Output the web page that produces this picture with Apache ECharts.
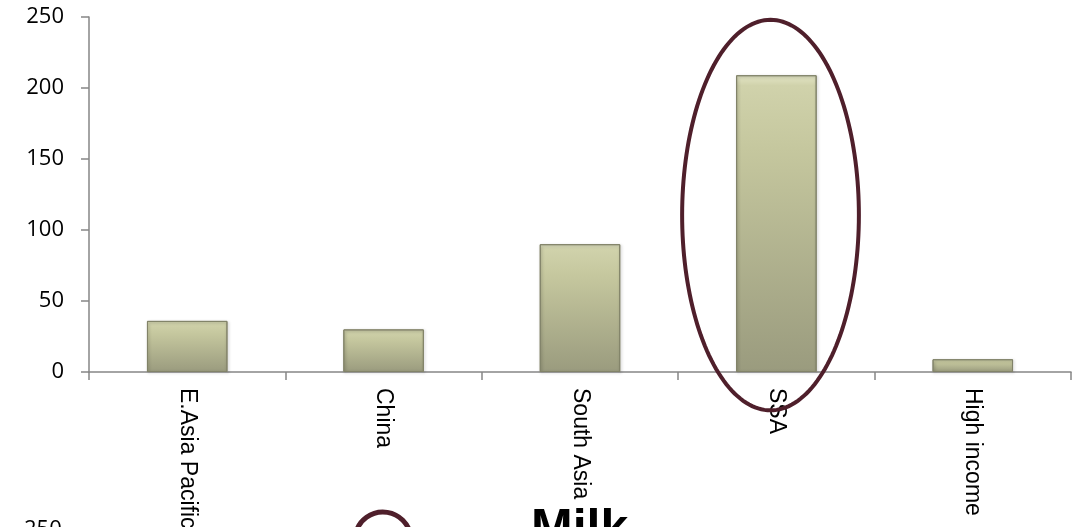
<!DOCTYPE html>
<html>
<head>
<meta charset="utf-8">
<script src="https://cdn.jsdelivr.net/npm/echarts@6/dist/echarts.min.js"></script>
<style>
html,body{margin:0;padding:0;background:#fff;}
#chart{width:1081px;height:527px;}
</style>
</head>
<body>
<div id="chart"></div>
<script>
const categories = ['E.Asia Pacific', 'China', 'South Asia', 'SSA', 'High income'];
const values = [36, 30, 90, 209, 9];
const yTicks = [0, 50, 100, 150, 200, 250];
const highlightCategory = 'SSA';
const highlightRange = [-27, 248];
const nextChartTick = '250';
const nextChartTitle = 'Milk';

(function () {
const chart = echarts.init(document.getElementById('chart'), null, {renderer: 'canvas'});
const axisColor = '#868686';
chart.setOption({
  animation: false,
  grid: {left: 89, right: 10, top: 17, bottom: 155, containLabel: false, outerBoundsMode: 'none'},
  xAxis: {
    type: 'category',
    data: categories,
    axisLine: {lineStyle: {color: axisColor, width: 1.5}},
    axisTick: {show: true, length: 8, lineStyle: {color: axisColor, width: 1.5}},
    axisLabel: {rotate: -90, margin: 16, color: '#000', fontSize: 23, fontFamily: 'Liberation Sans, Arial, sans-serif', interval: 0}
  },
  yAxis: {
    type: 'value',
    min: yTicks[0], max: yTicks[yTicks.length - 1], interval: 50,
    splitLine: {show: false},
    axisLine: {show: true, lineStyle: {color: axisColor, width: 1.5}},
    axisTick: {show: true, length: 8, lineStyle: {color: axisColor, width: 1.5}},
    axisLabel: {margin: 25, color: '#000', fontSize: 22, fontFamily: 'Open Sans, Noto Sans, sans-serif'}
  },
  series: [{
    type: 'bar',
    data: values,
    barWidth: '41%',
    itemStyle: {
      color: new echarts.graphic.LinearGradient(0, 0, 0, 1, [
        {offset: 0, color: '#e4e6c6'},
        {offset: 0.035, color: '#d0d2ab'},
        {offset: 0.25, color: '#c5c79e'},
        {offset: 1, color: '#9a9b7e'}
      ]),
      borderColor: '#828369',
      borderWidth: 1,
      shadowColor: 'rgba(0,0,0,0.25)',
      shadowBlur: 3,
      shadowOffsetX: 1,
      shadowOffsetY: 1
    }
  }]
});

const center = chart.convertToPixel({xAxisIndex: 0, yAxisIndex: 0}, [highlightCategory, (highlightRange[0] + highlightRange[1]) / 2]);
const upper = chart.convertToPixel({xAxisIndex: 0, yAxisIndex: 0}, [highlightCategory, highlightRange[1]]);
const catW = chart.convertToPixel({xAxisIndex: 0}, categories[1]) - chart.convertToPixel({xAxisIndex: 0}, categories[0]);
const ry = center[1] - upper[1];
const rx = catW * 0.45;
const cx = center[0] - catW * 0.03;

const pts = [];
for (let i = 0; i < 180; i++) {
  const a = i / 180 * Math.PI * 2;
  pts.push([cx + rx * Math.cos(a), center[1] + ry * Math.sin(a)]);
}

chart.setOption({
  graphic: [
    {type: 'polygon', shape: {points: pts, smooth: 0}, style: {fill: 'none', stroke: '#4f1f2b', lineWidth: 4}, z: 100},
    {type: 'arc', shape: {cx: 383, cy: 540, r: 28, startAngle: Math.PI * 1.05, endAngle: Math.PI * 1.95}, style: {fill: 'none', stroke: '#4f1f2b', lineWidth: 5}, z: 100},
    {type: 'text', left: 24, top: 519, style: {text: nextChartTick, fontSize: 22, fontFamily: 'Open Sans, Noto Sans, sans-serif', fill: '#000'}},
    {type: 'text', left: 531, top: 505, style: {text: nextChartTitle, fontSize: 50, fontWeight: 'bold', fontFamily: 'Liberation Sans, Arial, sans-serif', fill: '#000'}}
  ]
});
})();
</script>
</body>
</html>
